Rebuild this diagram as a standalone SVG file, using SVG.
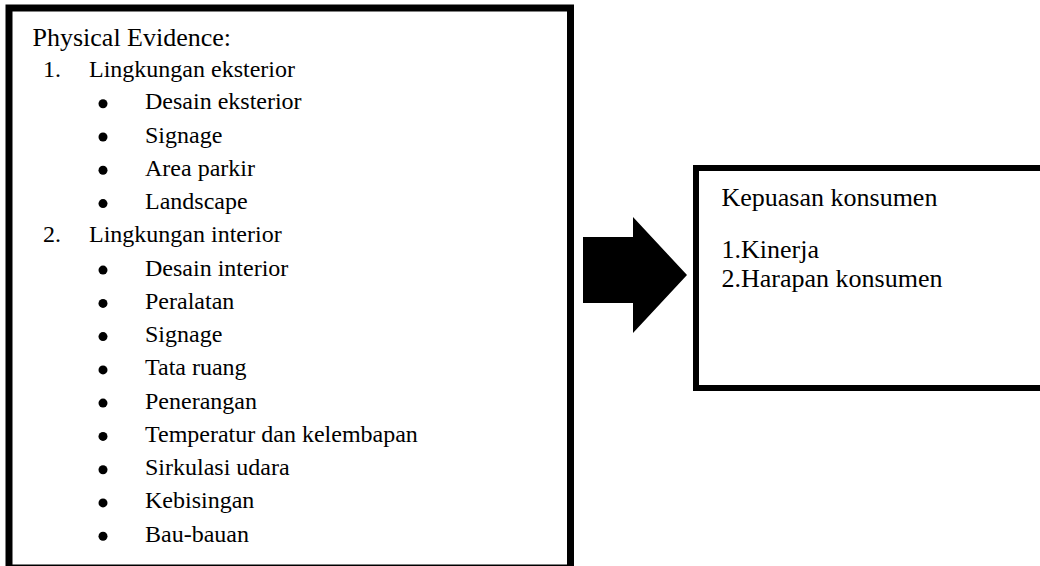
<svg xmlns="http://www.w3.org/2000/svg" width="1040" height="566" viewBox="0 0 1040 566">
<style>
.box{fill:#fff;stroke:#000;stroke-width:7}
.t{font-family:"Liberation Serif","Times New Roman",serif;fill:#000}
.h{font-size:26px}
.i{font-size:24px}
.b{fill:#000}
</style>
<rect width="1040" height="566" fill="#fff"/>
<g id="physical-evidence">
<rect class="box" x="9" y="8" width="561.5" height="560"/>
<text class="t h" x="32.5" y="46">Physical Evidence:</text>
<text class="t i" x="43" y="77.3">1.</text>
<text class="t i" x="89" y="77.3">Lingkungan eksterior</text>
<g class="b">
<circle cx="103" cy="103.8" r="4.5"/>
<circle cx="103" cy="137" r="4.5"/>
<circle cx="103" cy="170.3" r="4.5"/>
<circle cx="103" cy="203.6" r="4.5"/>
<circle cx="103" cy="270.1" r="4.5"/>
<circle cx="103" cy="303.4" r="4.5"/>
<circle cx="103" cy="336.6" r="4.5"/>
<circle cx="103" cy="369.9" r="4.5"/>
<circle cx="103" cy="403.1" r="4.5"/>
<circle cx="103" cy="436.4" r="4.5"/>
<circle cx="103" cy="469.7" r="4.5"/>
<circle cx="103" cy="502.9" r="4.5"/>
<circle cx="103" cy="536.2" r="4.5"/>
</g>
<text class="t i" x="145" y="109.3">Desain eksterior</text>
<text class="t i" x="145" y="142.5">Signage</text>
<text class="t i" x="145" y="175.8">Area parkir</text>
<text class="t i" x="145" y="209.1">Landscape</text>
<text class="t i" x="43" y="242.3">2.</text>
<text class="t i" x="89" y="242.3">Lingkungan interior</text>
<text class="t i" x="145" y="275.6">Desain interior</text>
<text class="t i" x="145" y="308.9">Peralatan</text>
<text class="t i" x="145" y="342.1">Signage</text>
<text class="t i" x="145" y="375.4">Tata ruang</text>
<text class="t i" x="145" y="408.6">Penerangan</text>
<text class="t i" x="145" y="441.9">Temperatur dan kelembapan</text>
<text class="t i" x="145" y="475.2">Sirkulasi udara</text>
<text class="t i" x="145" y="508.4">Kebisingan</text>
<text class="t i" x="145" y="541.7">Bau-bauan</text>
</g>
<g id="connectors">
<polygon points="583,237 633,237 633,217 687,275 633,333 633,303 583,303" fill="#000"/>
</g>
<g id="kepuasan-konsumen">
<rect class="box" x="696" y="168" width="380" height="220" style="stroke-width:6"/>
<text class="t h" x="721.5" y="205.7">Kepuasan konsumen</text>
<text class="t h" x="721.5" y="258.3">1.Kinerja</text>
<text class="t h" x="721.5" y="286.7">2.Harapan konsumen</text>
</g>
</svg>
